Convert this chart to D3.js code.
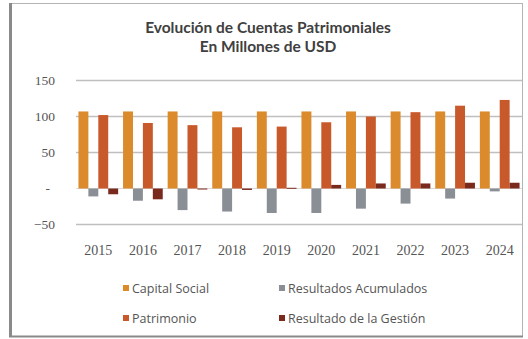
<!DOCTYPE html>
<html>
<head>
<meta charset="utf-8">
<script src="https://cdn.jsdelivr.net/npm/d3@7"></script>
<style>
  html, body { margin: 0; padding: 0; background: #ffffff; }
  svg { display: block; }
</style>
</head>
<body>
<svg id="chart" width="528" height="339"></svg>
<script>
// Categories, series and tick labels
const years = ["2015","2016","2017","2018","2019","2020","2021","2022","2023","2024"];
const seriesNames = ["Capital Social","Resultados Acumulados","Patrimonio","Resultado de la Gestión"];
const capitalSocial        = [107, 107, 107, 107, 107, 107, 107, 107, 107, 107];
const resultadosAcumulados = [-11, -17, -30, -32, -34, -34, -28, -21, -14, -4];
const patrimonio           = [102, 91, 88, 85, 86, 92, 100, 106, 115, 123];
const resultadoGestion     = [-8, -15, -1, -2, 1, 5, 7, 7, 8, 8];
const yTicks = [-50, 0, 50, 100, 150];
const titleLines = ["Evolución de Cuentas Patrimoniales", "En Millones de USD"];

const seriesValues = [capitalSocial, resultadosAcumulados, patrimonio, resultadoGestion];
const colors = ["#DB8A2C", "#8A8F96", "#C8592B", "#7A2A1C"];

const svg = d3.select("#chart");

// Outer chart frame
svg.append("rect").attr("x", 10.5).attr("y", 3.5).attr("width", 512).attr("height", 333)
  .attr("fill", "#ffffff").attr("stroke", "#b4b4b4").attr("stroke-width", 1);
svg.append("line").attr("x1", 10.5).attr("x2", 10.5).attr("y1", 3).attr("y2", 337)
  .attr("stroke", "#8a8a8a").attr("stroke-width", 3);
svg.append("line").attr("x1", 9).attr("x2", 523).attr("y1", 336.5).attr("y2", 336.5)
  .attr("stroke", "#8a8a8a").attr("stroke-width", 2);

// Title
svg.append("g").selectAll("text").data(titleLines).join("text")
  .attr("x", 268).attr("y", (d, i) => 33 + i * 18.5)
  .attr("text-anchor", "middle")
  .attr("font-family", "Lato, 'Open Sans', sans-serif")
  .attr("font-weight", "bold").attr("font-size", 15.5)
  .attr("fill", "#404040")
  .text(d => d);

// Scales
const x0 = d3.scaleBand().domain(years).range([76, 522]).paddingInner(0.11).paddingOuter(0.055);
const x1 = d3.scaleBand().domain(seriesNames).range([0, x0.bandwidth()]);
const y = d3.scaleLinear().domain([-50, 150]).range([224.5, 80.5]);

// Gridlines
svg.append("g").selectAll("line").data(yTicks).join("line")
  .attr("x1", 76).attr("x2", 522)
  .attr("y1", d => y(d)).attr("y2", d => y(d))
  .attr("stroke", d => d === 0 ? "#d9d9d9" : "#bfbfbf")
  .attr("stroke-width", d => d === 0 ? 1 : 1.5);

// Y axis labels (zero shown as a dash, accounting style)
const yAxis = d3.axisLeft(y).tickValues(yTicks).tickSize(0).tickPadding(0)
  .tickFormat(d => d === 0 ? "-" : d3.format("d")(d));
const gy = svg.append("g").attr("transform", "translate(55,0)").call(yAxis);
gy.select(".domain").remove();
gy.selectAll("text")
  .attr("font-family", "'Liberation Serif', serif").attr("font-size", 13.5)
  .attr("fill", "#555555")
  .attr("dx", d => d === 0 ? -5 : 0);

// X axis labels
const xAxis = d3.axisBottom(x0).tickSize(0).tickPadding(0);
const gx = svg.append("g").attr("transform", "translate(0,245)").call(xAxis);
gx.select(".domain").remove();
gx.selectAll("text")
  .attr("font-family", "'Liberation Serif', serif").attr("font-size", 14)
  .attr("fill", "#555555");

// Bars
const groups = svg.append("g").selectAll("g").data(years).join("g")
  .attr("transform", d => `translate(${x0(d)},0)`);
groups.selectAll("rect")
  .data((d, i) => seriesNames.map((s, k) => ({ s, k, v: seriesValues[k][i] })))
  .join("rect")
  .attr("x", d => x1(d.s))
  .attr("width", x1.bandwidth())
  .attr("y", d => y(Math.max(0, d.v)))
  .attr("height", d => Math.max(1, Math.abs(y(d.v) - y(0))))
  .attr("fill", d => colors[d.k]);

// Legend (two columns, two rows)
const legendPos = [[123, 288], [279, 288], [123, 318], [279, 318]];
const legend = svg.append("g").selectAll("g").data(seriesNames).join("g")
  .attr("transform", (d, i) => `translate(${legendPos[i][0]},${legendPos[i][1]})`);
legend.append("rect").attr("x", 0).attr("y", -3).attr("width", 6).attr("height", 6)
  .attr("fill", (d, i) => colors[i]);
legend.append("text").attr("x", 9).attr("y", 4.5)
  .attr("font-family", "'Open Sans', sans-serif").attr("font-size", 12.5)
  .attr("fill", "#555555")
  .text(d => d);
</script>
</body>
</html>
